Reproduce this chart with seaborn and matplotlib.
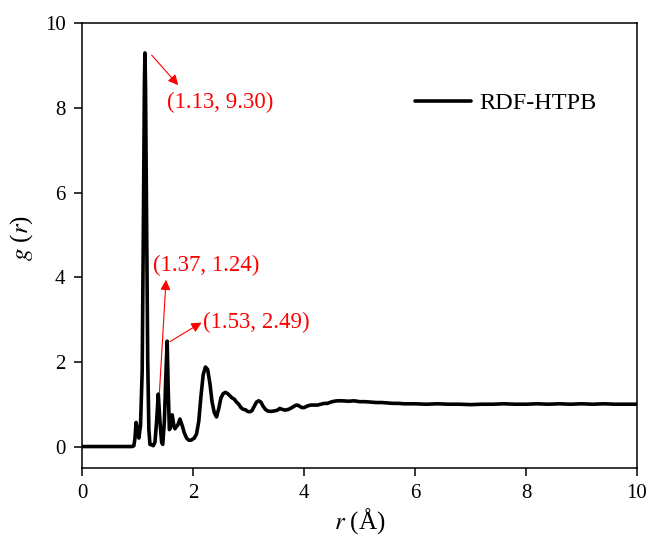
import matplotlib
matplotlib.use("Agg")
import matplotlib.pyplot as plt
import seaborn as sns
import pandas as pd

# Radial distribution function of HTPB: distance r (Å) and g(r)
r_vals = [
    0.00, 0.50, 0.90, 0.93, 0.95, 0.97, 0.99, 1.02, 1.05, 1.08, 1.10, 1.12,
    1.13, 1.14, 1.16, 1.18, 1.20, 1.22, 1.25, 1.28, 1.31, 1.34, 1.37, 1.40,
    1.43, 1.45, 1.48, 1.51, 1.53, 1.55, 1.57, 1.59, 1.62, 1.65, 1.67, 1.70,
    1.72, 1.76, 1.80, 1.84, 1.88, 1.92, 1.96, 2.02, 2.06, 2.10, 2.14, 2.18,
    2.22, 2.26, 2.30, 2.34, 2.38, 2.42, 2.46, 2.50, 2.54, 2.58, 2.62, 2.66,
    2.70, 2.74, 2.78, 2.82, 2.86, 2.90, 2.94, 2.98, 3.02, 3.06, 3.10, 3.14,
    3.18, 3.22, 3.26, 3.30, 3.34, 3.40, 3.46, 3.52, 3.56, 3.60, 3.66, 3.72,
    3.78, 3.84, 3.88, 3.92, 3.96, 4.00, 4.06, 4.12, 4.18, 4.24, 4.30, 4.36,
    4.42, 4.48, 4.54, 4.60, 4.70, 4.80, 4.90, 5.00, 5.10, 5.20, 5.30, 5.40,
    5.50, 5.60, 5.70, 5.80, 6.00, 6.20, 6.40, 6.60, 6.80, 7.00, 7.20, 7.40,
    7.60, 7.80, 8.00, 8.20, 8.40, 8.60, 8.80, 9.00, 9.20, 9.40, 9.60, 9.80,
    10.00,
]
g_vals = [
    0.00, 0.00, 0.00, 0.02, 0.20, 0.57, 0.45, 0.20, 0.50, 1.80, 5.00, 8.60,
    9.30, 8.50, 5.20, 2.00, 0.40, 0.05, 0.04, 0.02, 0.10, 0.60, 1.24, 0.60,
    0.10, 0.05, 0.60, 1.80, 2.49, 1.30, 0.40, 0.45, 0.75, 0.50, 0.42, 0.48,
    0.50, 0.65, 0.50, 0.32, 0.20, 0.15, 0.15, 0.20, 0.30, 0.60, 1.20, 1.70,
    1.88, 1.82, 1.50, 1.05, 0.80, 0.70, 0.90, 1.15, 1.25, 1.28, 1.25, 1.20,
    1.15, 1.12, 1.05, 1.00, 0.92, 0.88, 0.87, 0.83, 0.82, 0.85, 0.95, 1.05,
    1.08, 1.05, 0.95, 0.88, 0.84, 0.83, 0.84, 0.86, 0.90, 0.88, 0.86, 0.88,
    0.92, 0.97, 0.98, 0.95, 0.92, 0.92, 0.96, 0.98, 0.98, 0.98, 1.00, 1.02,
    1.02, 1.05, 1.07, 1.08, 1.08, 1.07, 1.08, 1.06, 1.06, 1.05, 1.04, 1.04,
    1.03, 1.02, 1.02, 1.01, 1.01, 1.00, 1.01, 1.00, 1.00, 0.99, 1.00, 1.00,
    1.01, 1.00, 1.00, 1.01, 1.00, 1.01, 1.00, 1.01, 1.00, 1.01, 1.00, 1.00,
    1.00,
]

# Labelled peaks: (r, g(r))
peak_r = [1.13, 1.37, 1.53]
peak_g = [9.30, 1.24, 2.49]

x_ticks = [0, 2, 4, 6, 8, 10]
y_ticks = [0, 2, 4, 6, 8, 10]

sns.set_style("ticks")
plt.rcParams["font.family"] = ["Liberation Serif", "DejaVu Serif"]
plt.rcParams["mathtext.fontset"] = "stix"
plt.rcParams["text.color"] = "black"
plt.rcParams["axes.labelcolor"] = "black"

df = pd.DataFrame({"r": r_vals, "g": g_vals})

fig = plt.figure(figsize=(6.51, 5.35), dpi=100)
ax = fig.add_axes([0.1264, 0.1258, 0.8521, 0.8306])

sns.lineplot(data=df, x="r", y="g", ax=ax, color="black", linewidth=2.6,
             estimator=None, sort=False, label="RDF-HTPB")

ax.set_xlim(0, 10)
ax.set_ylim(-0.5, 10)
ax.set_xticks(x_ticks)
ax.set_yticks(y_ticks)
ax.tick_params(axis="both", direction="out", length=6, width=1.1,
               labelsize=15, pad=6, colors="black")
for sp in ax.spines.values():
    sp.set_visible(True)
    sp.set_linewidth(1.1)
    sp.set_color("black")

ax.set_xlabel(r"$r$ (Å)", fontsize=18, labelpad=2)
ax.set_ylabel(r"$g$ ($r$)", fontsize=18)
ax.yaxis.set_label_coords(-0.086, 0.518)

# Peak annotations: arrow tail near the peak, head pointing at the label
arrow_specs = [
    ((peak_r[0] + 0.12, peak_g[0] - 0.05), (1.73, 8.54), (1.52, 8.14)),
    ((peak_r[1] + 0.02, peak_g[1] + 0.03), (1.51, 3.94), (1.28, 4.29)),
    ((peak_r[2] + 0.05, peak_g[2] - 0.01), (2.15, 2.93), (2.17, 2.93)),
]
for (tail, head, txt), pr, pg in zip(arrow_specs, peak_r, peak_g):
    ax.annotate("", xy=head, xytext=tail,
                arrowprops=dict(arrowstyle="-|>", color="red", lw=0.8,
                                mutation_scale=15, shrinkA=0, shrinkB=0))
    ax.text(txt[0], txt[1], f"({pr:.2f}, {pg:.2f})", color="red",
            fontsize=16.5, ha="left", va="center")

leg = ax.legend(loc="center left", bbox_to_anchor=(0.60, 0.82), frameon=False,
                fontsize=17.5, handlelength=2.3, handletextpad=0.35,
                borderpad=0, borderaxespad=0)

fig.savefig("out.png", dpi=100)
